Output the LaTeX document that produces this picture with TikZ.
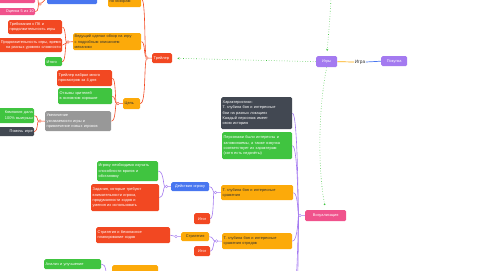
\documentclass[tikz,border=0pt]{standalone}
\usepackage{fontspec}
\newfontfamily\mmfont{Liberation Sans}
\usetikzlibrary{arrows.meta,backgrounds}
\definecolor{cred}{RGB}{242,72,34}
\definecolor{corange}{RGB}{252,170,10}
\definecolor{cgreen}{RGB}{64,196,64}
\definecolor{cblue}{RGB}{72,118,240}
\definecolor{cpink}{RGB}{240,82,140}
\definecolor{cpurple}{RGB}{164,122,240}
\definecolor{cgray}{RGB}{152,152,152}
\definecolor{cdark}{RGB}{66,72,82}
\definecolor{ctext}{RGB}{50,50,50}
\tikzset{
  mmnode/.style={rounded corners=1.5bp, text=white, font=\mmfont\fontsize{3.9}{5.3}\selectfont,
    align=left, inner xsep=1.5bp, inner ysep=0.6bp},
  fred/.style={fill=cred}, forange/.style={fill=corange,text=ctext}, fgreen/.style={fill=cgreen},
  fblue/.style={fill=cblue}, fpink/.style={fill=cpink}, fpurple/.style={fill=cpurple},
  fgray/.style={fill=cgray}, fdark/.style={fill=cdark},
  rline/.style={draw=cred, line width=0.6bp},
  pline/.style={draw=cpurple, line width=0.6bp},
  rcirc/.style={circle, draw=cred, fill=white, inner sep=0, minimum size=2.6bp, line width=0.4bp},
  pcirc/.style={circle, draw=cpurple, fill=white, inner sep=0, minimum size=2.6bp, line width=0.4bp},
  gdot/.style={draw=cgreen, line width=0.6bp, dotted},
}
\newcommand\mmbox[7]{%
  \pgfmathsetmacro\mmw{#4-(#2)}\pgfmathsetmacro\mmh{#5-(#3)}\pgfmathsetmacro\mmt{#4-(#2)-3}%
  \node[mmnode,#6,anchor=north west,minimum width=\mmw bp,minimum height=\mmh bp,text width=\mmt bp] (#1) at (#2,#3) {#7};}
\begin{document}
\begin{tikzpicture}[x=1bp,y=-1bp]
\useasboundingbox (0,0) rectangle (486,270);
\clip (0,0) rectangle (486,270);
% ---------- left (red) branch ----------
\mmbox{pinkA}{-20}{-10}{35}{3}{fpink,align=right}{Оценено на 8 из 10}
\mmbox{pinkB}{-20}{8}{35}{15}{fpink,align=right}{Оценка 5 из 10}
\mmbox{blueTop}{47}{-10}{97}{4}{fblue}{Мнение критиков}
\mmbox{orangeTop}{108}{-10}{141}{7}{forange}{Средние оценки\\по обзорам}
\mmbox{red1}{8}{20}{62}{34}{fred}{Требования к ПК и\\продолжительность игры}
\mmbox{red2}{-20}{38}{62}{52}{fred,align=right}{Продолжительность игры, время\\на разных уровнях сложности}
\mmbox{greenItogo}{45}{57}{62}{66}{fgreen}{Итого}
\mmbox{orangeBig}{73}{33}{141}{50}{forange}{Ведущий сделал обзор на игру\\с подробным описанием\\механики}
\mmbox{trailer}{152}{53}{172}{63}{fred}{Трейлер}
\mmbox{redB}{57}{70}{112}{86}{fred}{Трейлер набрал много\\просмотров за 4 дня}
\mmbox{greenB}{58}{88}{112}{104}{fgreen}{Отзывы зрителей\\в основном хорошие}
\mmbox{orangeCel}{123}{98}{140}{109}{forange}{Цель}
\mmbox{grayB}{45}{111}{111}{131}{fgray}{Увеличение\\узнаваемости игры и\\привлечение новых игроков}
\mmbox{greenL}{-20}{108}{34}{123}{fgreen,align=right}{Компания дала\\100\% выигрыш}
\mmbox{darkL}{-20}{127}{34}{136}{fdark,align=right}{Помочь игре}
% ---------- centre ----------
\mmbox{igry}{316}{56}{337}{67}{fpurple,align=center}{Игры}
\node[font=\mmfont\fontsize{4.8}{5}\selectfont, text=ctext, inner sep=0.5bp] (igra) at (360,62) {Игра};
\mmbox{pokupka}{381}{56}{407}{66}{fpurple,align=center}{Покупка}
% ---------- right (purple) branch ----------
\mmbox{grayR}{221}{97}{292}{129}{fdark}{Характеристики:\\Т. глубина боя и интересные\\бои на разных локациях\\Каждый персонаж имеет\\свою историю}
\mmbox{greenR}{222}{132}{292}{159}{fgreen}{Персонажи были интересны и\\запоминаемы, а также озвучка\\соответствует их характерам\\(хотя есть недочёты)}
\mmbox{orangeR1}{221}{185}{293}{200}{forange}{Т. глубина боя и интересные\\сражения}
\mmbox{blueAct}{171}{182}{209}{191}{fblue,align=center}{Действия игроку}
\mmbox{greenL2}{97}{161}{158}{181}{fgreen}{Игроку необходимо изучать\\способности врагов и\\обстановку}
\mmbox{redL2}{91}{184}{159}{211}{fred}{Задания, которые требуют\\внимательности игрока,\\продуманности ходов и\\умения их использовать}
\mmbox{itog1}{194}{213}{210}{224}{fred,align=center}{Итог}
\mmbox{orangeStrat}{181}{232}{209}{241}{forange,align=center}{Стратегия}
\mmbox{redStrat}{96}{227}{170}{243}{fred}{Стратегия и безопасное\\планирование ходов}
\mmbox{orangeR2}{222}{233}{292}{249}{forange}{Т. глубина боя и интересные\\сражения отрядов}
\mmbox{itog2}{194}{246}{210}{256}{fred,align=center}{Итог}
\mmbox{pinkV}{305}{210}{346}{221}{fpink,align=center}{Визуализация}
\mmbox{greenBot}{44}{259}{101}{269}{fgreen}{Анализ и улучшение}
\mmbox{orangeBot}{112}{265}{158}{280}{forange}{}
% junction circles
\node[rcirc] (jB) at (40,4) {};
\node[rcirc] (jBig) at (68,42) {};
\node[rcirc] (jTr) at (147,58) {};
\node[rcirc] (jCel) at (118,103.5) {};
\node[rcirc] (jGr) at (40,121) {};
\node[pcirc] (jV) at (300,215.5) {};
\node[pcirc] (jR1) at (215.5,192.5) {};
\node[pcirc] (jAct) at (166.5,186.5) {};
\node[pcirc] (jR2) at (216.5,241) {};
\node[pcirc] (jSt) at (176,236.5) {};
\coordinate (offA) at (292,300);
\coordinate (offB) at (292,340);
\coordinate (offC) at (108,290);
\coordinate (topG) at (331,-2);
\begin{scope}[on background layer]
% red connectors
\draw[rline] (pinkA.east) .. controls (39,-3) and (38,4) .. (jB);
\draw[rline] (pinkB.east) .. controls (39,11.5) and (38,4) .. (jB);
\draw[rline] (jB) .. controls (43,2) .. (blueTop.west);
\draw[rline] (red1.east) .. controls (66,27) and (65,42) .. (jBig);
\draw[rline] (red2.east) -- (jBig);
\draw[rline] (greenItogo.east) .. controls (66,61.5) and (65,42) .. (jBig);
\draw[rline] (jBig) -- (orangeBig.west);
\draw[rline] (orangeTop.east) .. controls (146,-1) and (144,52) .. (jTr);
\draw[rline] (orangeBig.east) .. controls (145,41.5) and (144,55) .. (jTr);
\draw[rline] (orangeCel.east) .. controls (146,103.5) and (144,64) .. (jTr);
\draw[rline] (jTr) -- (trailer.west);
\draw[rline] (redB.east) .. controls (116,78) and (115,103.5) .. (jCel);
\draw[rline] (greenB.east) .. controls (115,96) and (115,103.5) .. (jCel);
\draw[rline] (grayB.east) .. controls (116,121) and (115,103.5) .. (jCel);
\draw[rline] (jCel) -- (orangeCel.west);
\draw[rline] (greenL.east) .. controls (38,115.5) and (37,121) .. (jGr);
\draw[rline] (darkL.east) .. controls (38,131.5) and (37,121) .. (jGr);
\draw[rline] (jGr) -- (grayB.west);
% purple connectors
\draw[pline] (grayR.east) .. controls (298,113) and (298,215.5) .. (jV);
\draw[pline] (greenR.east) .. controls (298,145.5) and (298,215.5) .. (jV);
\draw[pline] (orangeR1.east) .. controls (298,192.5) and (298,215.5) .. (jV);
\draw[pline] (orangeR2.east) .. controls (298,241) and (298,215.5) .. (jV);
\draw[pline] (offA) .. controls (298,300) and (298,215.5) .. (jV);
\draw[pline] (offB) .. controls (298.5,340) and (298.5,215.5) .. (jV);
\draw[pline] (jV) -- (pinkV.west);
\draw[pline] (blueAct.east) .. controls (213,186.5) and (213,192.5) .. (jR1);
\draw[pline] (itog1.east) .. controls (214,218.5) and (213,192.5) .. (jR1);
\draw[pline] (jR1) -- (orangeR1.west);
\draw[pline] (greenL2.east) .. controls (164,171) and (163,186.5) .. (jAct);
\draw[pline] (redL2.east) .. controls (164,197.5) and (163,186.5) .. (jAct);
\draw[pline] (jAct) -- (blueAct.west);
\draw[pline] (orangeStrat.east) .. controls (213,236.5) and (213,241) .. (jR2);
\draw[pline] (itog2.east) .. controls (214,251) and (213,241) .. (jR2);
\draw[pline] (jR2) -- (orangeR2.west);
\draw[pline] (redStrat.east) -- (jSt);
\draw[pline] (jSt) -- (orangeStrat.west);
\draw[pline] (greenBot.east) .. controls (106,264) and (106,270) .. (offC);
% centre links
\draw[draw=corange, line width=0.7bp] (igry.east) -- (igra.west);
\draw[draw=cblue, line width=0.7bp] (igra.east) -- (pokupka.west);
% green dotted relations
\draw[gdot, -{Stealth[length=2.2bp,width=2.2bp]}, shorten >=5bp] (igry.west) -- (trailer.east);
\draw[gdot, -{Stealth[length=2.2bp,width=2.2bp]}, shorten >=5bp] (topG) .. controls (330,20) and (328,40) .. (igry.north);
\draw[gdot, -{Circle[length=1.6bp]}, shorten >=5bp] (igry.south) .. controls (318,110) and (318,170) .. (pinkV.north);
\end{scope}
\end{tikzpicture}
\end{document}
